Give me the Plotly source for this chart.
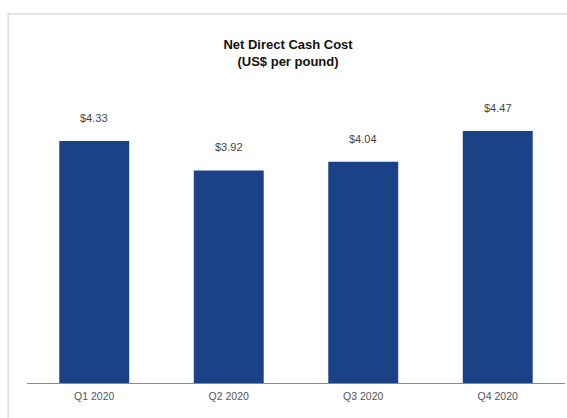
import plotly.graph_objects as go

quarters = ["Q1 2020", "Q2 2020", "Q3 2020", "Q4 2020"]
cash_cost = [4.33, 3.92, 4.04, 4.47]
value_labels = ["$4.33", "$3.92", "$4.04", "$4.47"]

BAR_COLOR = "#1b4286"
FONT = "Liberation Sans, Arial, sans-serif"

fig = go.Figure(
    go.Bar(
        x=quarters,
        y=cash_cost,
        marker=dict(color=BAR_COLOR, line=dict(width=0)),
        width=0.52,
        hoverinfo="skip",
    )
)

# value labels above each bar
for q, v, t in zip(quarters, cash_cost, value_labels):
    fig.add_annotation(
        x=q, y=v, text=t, showarrow=False, yshift=23,
        font=dict(family=FONT, size=11, color="#444444"),
    )

# light frame around the chart panel
fig.add_shape(
    type="rect", xref="paper", yref="paper",
    x0=-0.035, x1=1.05, y0=-0.2, y1=1.273,
    line=dict(color="#dcdcdc", width=1.5), fillcolor="rgba(0,0,0,0)",
    layer="below",
)

fig.update_layout(
    width=567,
    height=418,
    margin=dict(l=27, r=2, t=93, b=35),
    paper_bgcolor="white",
    plot_bgcolor="white",
    showlegend=False,
    bargap=0.48,
    title=dict(
        text="<b>Net Direct Cash Cost<br>(US$ per pound)</b>",
        x=0.508, xanchor="center",
        y=1 - 49 / 418, yanchor="top",
        font=dict(family=FONT, size=13, color="#111111"),
    ),
    xaxis=dict(
        showline=True, linecolor="#8a8a8a", linewidth=1,
        ticks="", showgrid=False, ticklabelstandoff=3,
        tickfont=dict(family=FONT, size=10.5, color="#555555"),
    ),
    yaxis=dict(
        range=[0.955, 5.0], visible=False, showgrid=False, zeroline=False,
    ),
)

fig.write_html("out.html")
